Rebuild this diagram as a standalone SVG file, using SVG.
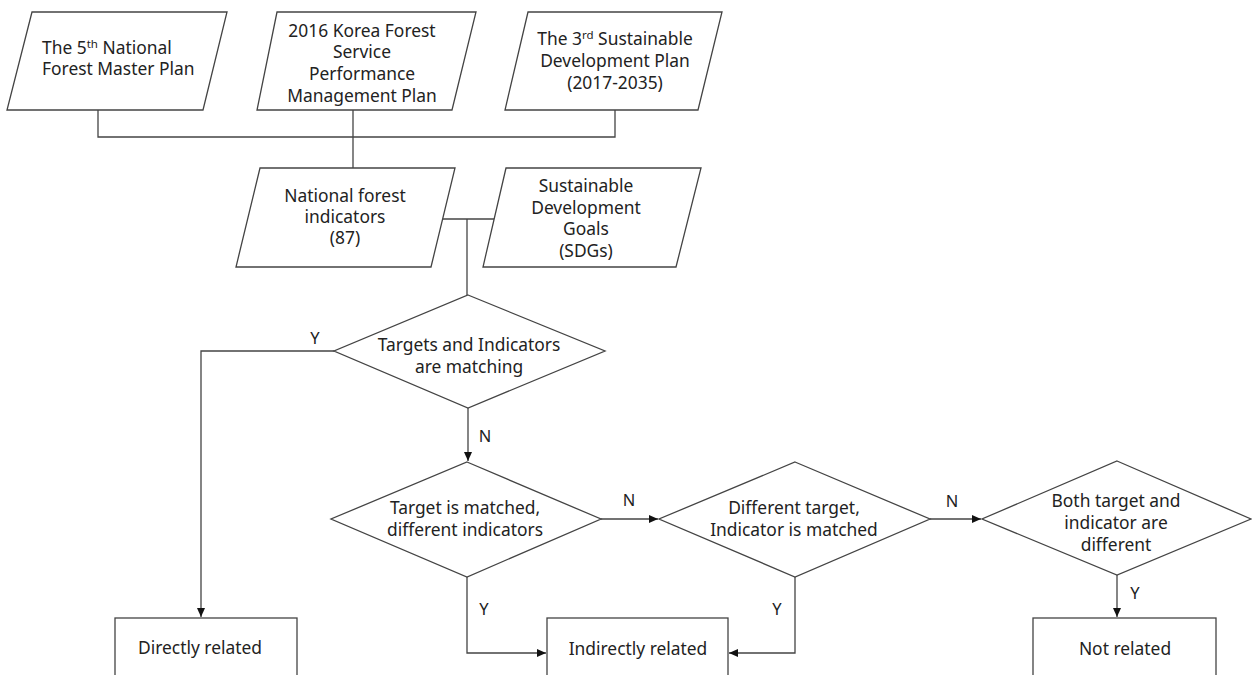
<svg xmlns="http://www.w3.org/2000/svg" width="1252" height="675" viewBox="0 0 1252 675">
<defs>
<marker id="arr" markerUnits="userSpaceOnUse" markerWidth="10" markerHeight="10" refX="9" refY="5" orient="auto">
<path d="M0,1 L9,5 L0,9 Z" fill="#111"/>
</marker>
<style>
.shape{fill:#fff;stroke:#444;stroke-width:1.3}
.line{fill:none;stroke:#444;stroke-width:1.3}
text{font-family:"Noto Sans","Open Sans","DejaVu Sans",sans-serif;font-size:17.4px;fill:#222;text-anchor:middle}
.lbl{font-size:16.5px}
</style>
</defs>
<rect width="1252" height="675" fill="#fff"/>
<g id="connectors">
<polyline class="line" points="98,110 98,137 615,137 615,110"/>
<line class="line" x1="353" y1="110" x2="353" y2="168"/>
<line class="line" x1="443" y1="219" x2="495" y2="219"/>
<line class="line" x1="467" y1="219" x2="467" y2="295"/>
<polyline class="line" points="334,351 201,351 201,617" marker-end="url(#arr)"/>
<line class="line" x1="468" y1="408" x2="468" y2="461" marker-end="url(#arr)"/>
<line class="line" x1="601" y1="519" x2="658" y2="519" marker-end="url(#arr)"/>
<line class="line" x1="930" y1="519" x2="981" y2="519" marker-end="url(#arr)"/>
<line class="line" x1="1117" y1="575" x2="1117" y2="617" marker-end="url(#arr)"/>
<polyline class="line" points="467,577 467,653 546,653" marker-end="url(#arr)"/>
<polyline class="line" points="795,577 795,653 729,653" marker-end="url(#arr)"/>
<text class="lbl" x="315" y="344">Y</text>
<text class="lbl" x="485" y="442">N</text>
<text class="lbl" x="629" y="506">N</text>
<text class="lbl" x="952" y="507">N</text>
<text class="lbl" x="1135" y="599">Y</text>
<text class="lbl" x="484" y="615">Y</text>
<text class="lbl" x="777" y="615">Y</text>
</g>
<g id="plan5">
<polygon class="shape" points="32,12 227,12 203,110 7,110"/>
<text x="42" y="54" style="text-anchor:start">The 5<tspan font-size="11.5" dy="-6">th</tspan><tspan dy="6"> National</tspan></text>
<text x="42" y="75" style="text-anchor:start">Forest Master Plan</text>
</g>
<g id="kfs2016">
<polygon class="shape" points="277,12 476,12 452,110 257,110"/>
<text x="362" y="37">2016 Korea Forest</text>
<text x="362" y="58">Service</text>
<text x="362" y="80">Performance</text>
<text x="362" y="102">Management Plan</text>
</g>
<g id="sdp3">
<polygon class="shape" points="528,12 722,12 698,110 505,110"/>
<text x="615" y="45">The 3<tspan font-size="11.5" dy="-6">rd</tspan><tspan dy="6"> Sustainable</tspan></text>
<text x="615" y="67">Development Plan</text>
<text x="615" y="89">(2017-2035)</text>
</g>
<g id="nfi">
<polygon class="shape" points="260,168 455,168 431,267 236,267"/>
<text x="345" y="202">National forest</text>
<text x="345" y="223">indicators</text>
<text x="345" y="244">(87)</text>
</g>
<g id="sdgs">
<polygon class="shape" points="506,168 701,168 676,267 483,267"/>
<text x="586" y="192">Sustainable</text>
<text x="586" y="214">Development</text>
<text x="586" y="235">Goals</text>
<text x="586" y="257">(SDGs)</text>
</g>
<g id="d1">
<polygon class="shape" points="468,295 605,351 468,408 334,351"/>
<text x="469" y="351">Targets and Indicators</text>
<text x="469" y="373">are matching</text>
</g>
<g id="d2">
<polygon class="shape" points="467,462 601,519 467,577 331,519"/>
<text x="465" y="514">Target is matched,</text>
<text x="465" y="536">different indicators</text>
</g>
<g id="d3">
<polygon class="shape" points="795,462 930,519 795,577 659,519"/>
<text x="794" y="514">Different target,</text>
<text x="794" y="536">Indicator is matched</text>
</g>
<g id="d4">
<polygon class="shape" points="1117,461 1251,519 1117,575 982,519"/>
<text x="1116" y="507">Both target and</text>
<text x="1116" y="529">indicator are</text>
<text x="1116" y="551">different</text>
</g>
<g id="direct">
<rect class="shape" x="115" y="618" width="182" height="70"/>
<text x="200" y="654">Directly related</text>
</g>
<g id="indirect">
<rect class="shape" x="547" y="618" width="181" height="70"/>
<text x="638" y="655">Indirectly related</text>
</g>
<g id="notrel">
<rect class="shape" x="1033" y="618" width="183" height="70"/>
<text x="1125" y="655">Not related</text>
</g>
</svg>
